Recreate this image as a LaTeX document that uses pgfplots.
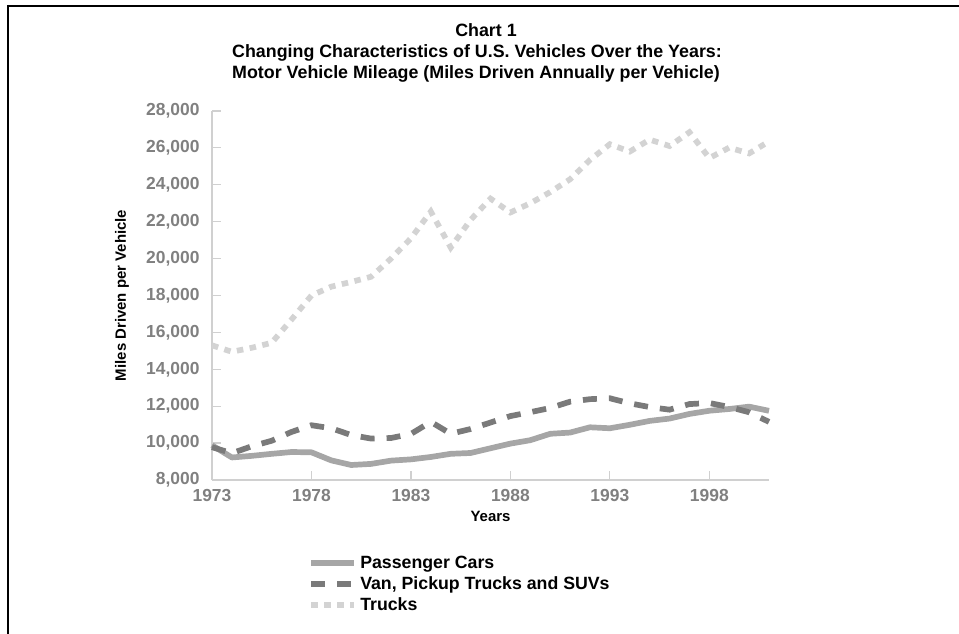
\documentclass[border=0pt]{standalone}
\usepackage{pgfplots}
\pgfplotsset{compat=1.18}
\usepackage{fontspec}
\setmainfont{Liberation Sans}
\definecolor{carc}{HTML}{A6A6A6}
\definecolor{vanc}{HTML}{7A7A7A}
\definecolor{truckc}{HTML}{D3D3D3}
\definecolor{tickc}{HTML}{808080}
\definecolor{axc}{HTML}{D0D0D0}
\begin{document}
\begin{tikzpicture}
\useasboundingbox (0,0) rectangle (959bp,634bp);
\draw[black, line width=2bp] (7bp,628bp) -- (959bp,628bp);
\draw[black, line width=2bp] (8bp,629bp) -- (8bp,0bp);
\node[anchor=base, font=\bfseries\fontsize{17.9}{21}\selectfont] at (486bp,597bp) {Chart 1};
\node[anchor=base, font=\bfseries\fontsize{17.9}{21}\selectfont] at (477bp,576bp) {Changing Characteristics of U.S. Vehicles Over the Years:};
\node[anchor=base, font=\bfseries\fontsize{17.9}{21}\selectfont] at (476bp,555bp) {Motor Vehicle Mileage (Miles Driven Annually per Vehicle)};
\begin{axis}[
  at={(212bp,154bp)}, anchor=south west,
  scale only axis, width=557bp, height=369bp,
  xmin=1973, xmax=2001, ymin=8000, ymax=28000,
  axis x line=bottom, axis y line=left,
  axis line style={draw=axc, line width=1.5bp, -},
  xtick={1973,1978,1983,1988,1993,1998},
  ytick={8000,10000,12000,14000,16000,18000,20000,22000,24000,26000,28000},
  tick align=inside, major tick length=9bp,
  tick style={draw=axc, line width=1.2bp},
  /pgf/number format/assume math mode=true,
  x tick label style={/pgf/number format/set thousands separator={}, font=\bfseries\fontsize{17.5}{20}\selectfont, text=tickc, yshift=-6bp},
  y tick label style={/pgf/number format/fixed, /pgf/number format/1000 sep={,}, font=\bfseries\fontsize{17.5}{20}\selectfont, text=tickc, xshift=-9bp},
  scaled y ticks=false,
  xlabel={Years},
  xlabel style={at={(axis description cs:0.5,-0.0976)}, anchor=center, font=\bfseries\fontsize{15}{18}\selectfont},
  ylabel={Miles Driven per Vehicle},
  ylabel style={at={(axis description cs:-0.1616,0.5)}, anchor=center, font=\bfseries\fontsize{15}{18}\selectfont},
  clip=false,
  legend cell align=left,
  legend style={at={(axis description cs:0.173,-0.1965)}, anchor=north west, draw=none, fill=none, inner sep=0pt, row sep=0pt,
    font=\bfseries\fontsize{17.8}{21}\selectfont,
    nodes={inner xsep=3bp, inner ysep=2bp, text height=14bp, text depth=3bp}},
  legend image code/.code={\draw[#1] (0bp,0bp) -- (43bp,0bp);},
]
\addplot[carc, line width=5.7bp, line join=round] coordinates {
(1973,9884) (1974,9221) (1975,9309) (1976,9418) (1977,9517) (1978,9500)
(1979,9062) (1980,8813) (1981,8873) (1982,9050) (1983,9118) (1984,9248)
(1985,9419) (1986,9464) (1987,9720) (1988,9972) (1989,10157) (1990,10504)
(1991,10571) (1992,10857) (1993,10804) (1994,10992) (1995,11203) (1996,11330)
(1997,11581) (1998,11754) (1999,11848) (2000,11976) (2001,11750)};
\addlegendentry{Passenger Cars}
\addplot[vanc, line width=5.7bp, dash pattern=on 14bp off 12bp] coordinates {
(1973,9779) (1974,9452) (1975,9829) (1976,10127) (1977,10607) (1978,10968)
(1979,10802) (1980,10437) (1981,10244) (1982,10276) (1983,10497) (1984,11151)
(1985,10506) (1986,10764) (1987,11114) (1988,11465) (1989,11676) (1990,11902)
(1991,12245) (1992,12381) (1993,12430) (1994,12156) (1995,11953) (1996,11811)
(1997,12115) (1998,12173) (1999,11957) (2000,11672) (2001,11150)};
\addlegendentry{Van, Pickup Trucks and SUVs}
\addplot[truckc, line width=5.7bp, dash pattern=on 6.5bp off 6.5bp] coordinates {
(1973,15300) (1974,14950) (1975,15167) (1976,15438) (1977,16700) (1978,18000)
(1979,18480) (1980,18736) (1981,19016) (1982,20000) (1983,21100) (1984,22550)
(1985,20600) (1986,22100) (1987,23250) (1988,22500) (1989,23000) (1990,23603)
(1991,24300) (1992,25350) (1993,26200) (1994,25800) (1995,26450) (1996,26100)
(1997,26850) (1998,25450) (1999,26014) (2000,25700) (2001,26350)};
\addlegendentry{Trucks}
\end{axis}
\end{tikzpicture}
\end{document}
